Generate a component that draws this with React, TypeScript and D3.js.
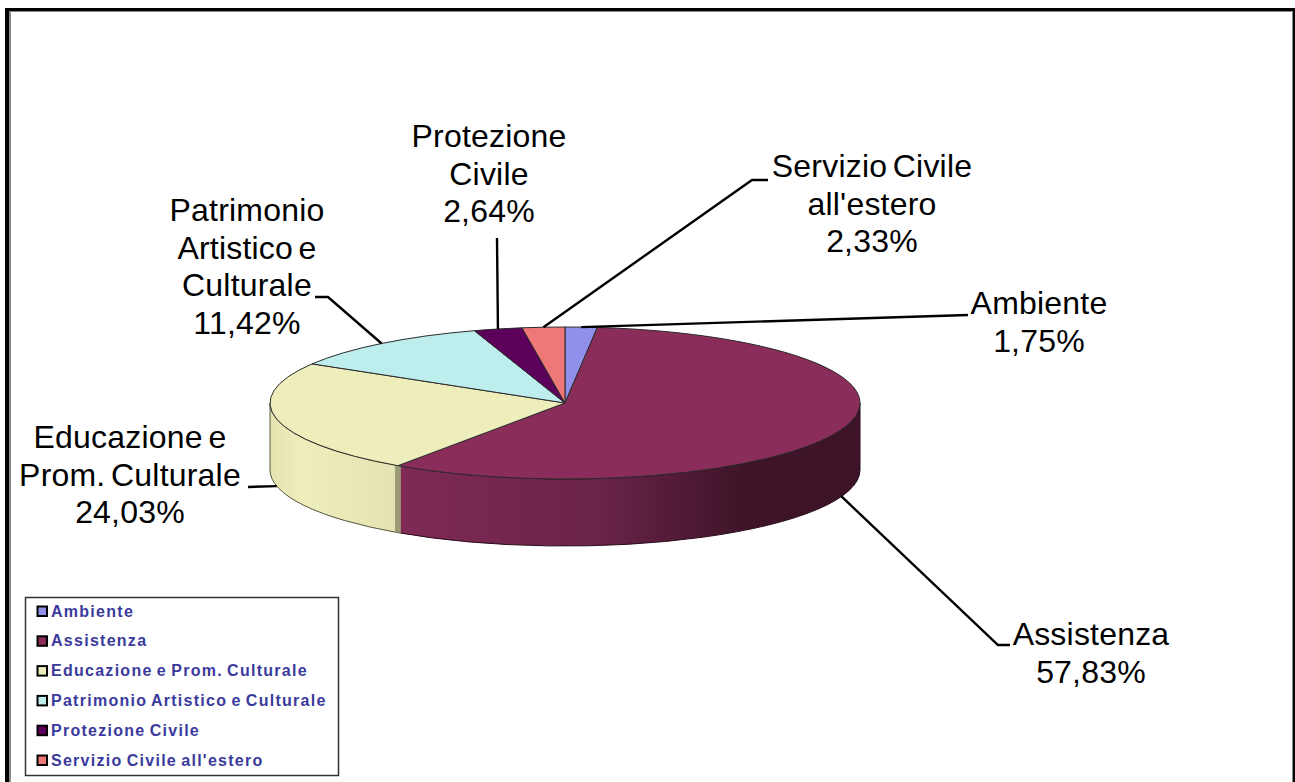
import React from 'react';
import * as d3 from 'd3';

const categories = ['Ambiente', 'Assistenza', 'Educazione e Prom. Culturale', 'Patrimonio Artistico e Culturale', 'Protezione Civile', "Servizio Civile all'estero"];
const values = [1.75, 57.83, 24.03, 11.42, 2.64, 2.33];
const colors = ['#9090ea', '#8b2d5b', '#eeeebd', '#bdeded', '#5c005c', '#ee7777'];
const labelLines = [['Ambiente'], ['Assistenza'], ['Educazione e', 'Prom. Culturale'], ['Patrimonio', 'Artistico e', 'Culturale'], ['Protezione', 'Civile'], ['Servizio Civile', "all'estero"]];

// layout: label centre + first baseline, leader line points after the slice anchor
const labelPos = [
  { x: 1039, y: 314, leader: [[968, 315]], front: false },
  { x: 1091, y: 645, leader: [[998, 645], [1010, 645]], front: true },
  { x: 130, y: 448, leader: [[248, 487]], front: true },
  { x: 247, y: 221, leader: [[328, 297], [315, 297]], front: false },
  { x: 489, y: 147, leader: [[497, 238]], front: false },
  { x: 872, y: 177, leader: [[752, 180], [768, 180]], front: false },
];

const W = 1295;
const H = 782;
const cx = 565;
const cy = 403;
const rx = 295;
const ry = 76;
const depth = 67;

const pie = d3.pie<number>().sort(null).startAngle(0).endAngle(2 * Math.PI);
const arcs = pie(values);
const arc = d3.arc<d3.PieArcDatum<number>>().innerRadius(0).outerRadius(rx);

const px = (a: number) => cx + rx * Math.sin(a);
const py = (a: number) => cy - ry * Math.cos(a);

// side wall between two angles (clockwise on screen)
const wall = (a0: number, a1: number) =>
  `M${px(a0)},${py(a0)}A${rx},${ry} 0 0 1 ${px(a1)},${py(a1)}L${px(a1)},${py(a1) + depth}A${rx},${ry} 0 0 0 ${px(a0)},${py(a0) + depth}Z`;

const fmt = (v: number) => v.toFixed(2).replace('.', ',') + '%';

const App = () => {
  const cut = arcs[1].endAngle;
  const legendY = d3.scalePoint<string>().domain(categories).range([611, 760]);

  return (
    <svg width={W} height={H} style={{ position: 'absolute', left: 0, top: 0, background: '#fff' }} fontFamily="'Liberation Sans', Arial, sans-serif">
      <defs>
        <linearGradient id="wallA" gradientUnits="userSpaceOnUse" x1={400} x2={860} y1={0} y2={0}>
          <stop offset="0" stopColor="#7f2a55" />
          <stop offset="0.43" stopColor="#6a2449" />
          <stop offset="0.74" stopColor="#3f1428" />
          <stop offset="1" stopColor="#3d1327" />
        </linearGradient>
        <linearGradient id="wallE" gradientUnits="userSpaceOnUse" x1={270} x2={400} y1={0} y2={0}>
          <stop offset="0" stopColor="#e4e4b0" />
          <stop offset="0.25" stopColor="#eeeebd" />
          <stop offset="1" stopColor="#e2e2b2" />
        </linearGradient>
      </defs>

      {/* frame: black band with a grey inner edge */}
      <rect x={5} y={8} width={4} height={774} fill="#000" />
      <rect x={9} y={11} width={2} height={771} fill="#8a8a8a" />
      <rect x={5} y={8} width={1290} height={3} fill="#000" />
      <rect x={9} y={11} width={1283} height={1} fill="#8a8a8a" />
      <rect x={1293} y={8} width={2} height={774} fill="#000" />
      <rect x={1292} y={11} width={1} height={771} fill="#8a8a8a" />

      {/* side walls */}
      <path d={wall(Math.PI / 2, cut)} fill="url(#wallA)" stroke="#2a0c1c" strokeWidth={1} />
      <path d={wall(cut, 1.5 * Math.PI)} fill="url(#wallE)" stroke="#55553c" strokeWidth={1} />
      <path d={wall(cut - 0.012, cut + 0.012)} fill="#9a9a78" stroke="none" />

      {/* top face */}
      <g transform={`translate(${cx},${cy}) scale(1,${ry / rx})`}>
        {arcs.map((d, i) => (
          <path key={i} d={arc(d) as string} fill={colors[i]} stroke="#2b2b2b" strokeWidth={1} vectorEffect="non-scaling-stroke" />
        ))}
      </g>

      {/* leader lines */}
      {arcs.map((d, i) => {
        const mid = (d.startAngle + d.endAngle) / 2;
        const start: [number, number] = [px(mid), py(mid) + (labelPos[i].front ? depth : 0)];
        const line = d3.line()([start, ...(labelPos[i].leader as [number, number][])]) as string;
        return <path key={i} d={line} fill="none" stroke="#000" strokeWidth={2.4} />;
      })}

      {/* labels */}
      {labelLines.map((lines, i) => (
        <text key={i} textAnchor="middle" fontSize={32} fill="#000" letterSpacing={0.2} wordSpacing={-3.5}>
          {[...lines, fmt(values[i])].map((t, j) => (
            <tspan key={j} x={labelPos[i].x} y={labelPos[i].y + j * 37.7}>{t}</tspan>
          ))}
        </text>
      ))}

      {/* legend */}
      <rect x={25.5} y={597.5} width={313} height={178} fill="#fff" stroke="#333" strokeWidth={1.5} />
      {categories.map((c, i) => {
        const y = legendY(c) as number;
        return (
          <g key={c}>
            <rect x={37.5} y={y - 4.5} width={9.5} height={9.5} fill={colors[i]} stroke="#000" strokeWidth={2} />
            <text x={51} y={y + 5.5} fontSize={16} fontWeight="bold" fill="#3a3a9c" letterSpacing={1.27} wordSpacing={-1.5}>{c}</text>
          </g>
        );
      })}
    </svg>
  );
};

export default App;
